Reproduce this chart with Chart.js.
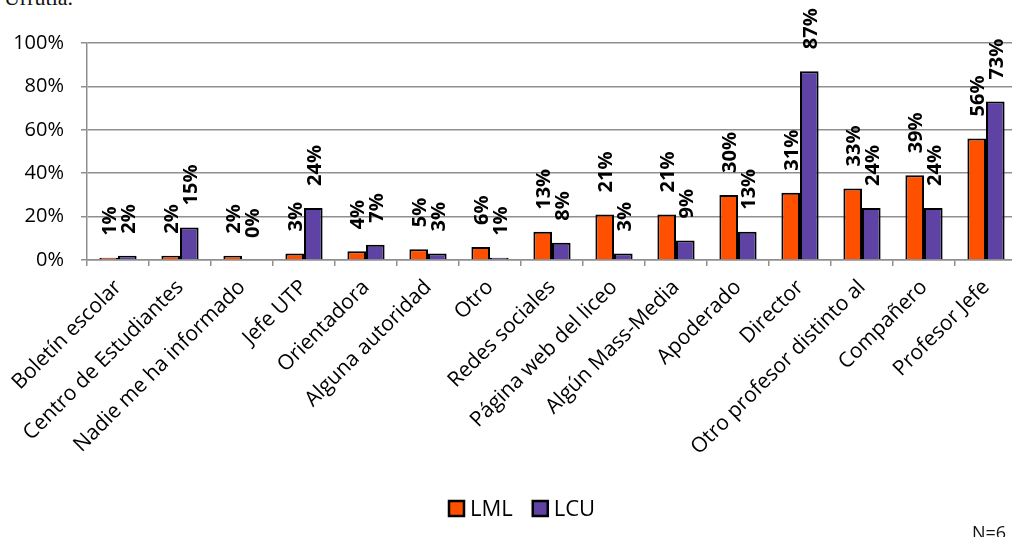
<!DOCTYPE html>
<html>
<head>
<meta charset="utf-8">
<script src="https://cdn.jsdelivr.net/npm/chart.js@4.4.1/dist/chart.umd.min.js"></script>
<style>
  html, body { margin: 0; padding: 0; background: #fff; }
  #wrap { position: relative; width: 1012px; height: 537px; overflow: hidden; }
  #c { position: absolute; left: 0; top: 0; }
  .note { position: absolute; color: #111; white-space: nowrap; }
</style>
</head>
<body>
<div id="wrap">
  <div class="note" style="left:4px; top:-15px; font-family:'Liberation Serif'; font-size:22px;">Urrutia.</div>
  <canvas id="c" width="1030" height="537"></canvas>
  <div class="note" style="left:972px; top:520px; font-family:'Open Sans'; font-size:18px;">N=6</div>
</div>
<script>
const categories = [
  "Boletín escolar", "Centro de Estudiantes", "Nadie me ha informado", "Jefe UTP",
  "Orientadora", "Alguna autoridad", "Otro", "Redes sociales", "Página web del liceo",
  "Algún Mass-Media", "Apoderado", "Director", "Otro profesor distinto al",
  "Compañero", "Profesor Jefe"
];
const seriesNames = ["LML", "LCU"];
const lmlValues = [1, 2, 2, 3, 4, 5, 6, 13, 21, 21, 30, 31, 33, 39, 56];
const lcuValues = [2, 15, 0, 24, 7, 3, 1, 8, 3, 9, 13, 87, 24, 24, 73];
const yTicks = [0, 20, 40, 60, 80, 100];

const FONT = "'Open Sans', 'Lato', sans-serif";
const GRID = '#8f8f8f';
const TEXT = '#000';

const valueLabels = {
  id: 'valueLabels',
  afterDatasetsDraw(chart) {
    const ctx = chart.ctx;
    ctx.save();
    ctx.fillStyle = TEXT;
    ctx.font = "bold 20px " + FONT;
    ctx.textAlign = 'left';
    ctx.textBaseline = 'middle';
    chart.data.datasets.forEach((ds, di) => {
      const meta = chart.getDatasetMeta(di);
      meta.data.forEach((el, i) => {
        const v = ds.data[i];
        ctx.save();
        ctx.translate(el.x + 2, el.y - 22);
        ctx.rotate(-Math.PI / 2);
        ctx.fillText(v + '%', 0, 0);
        ctx.restore();
      });
    });
    ctx.restore();
  }
};

const customLegend = {
  id: 'customLegend',
  afterDraw(chart) {
    const ctx = chart.ctx;
    ctx.save();
    ctx.font = "22px " + FONT;
    ctx.textBaseline = 'middle';
    ctx.textAlign = 'left';
    let x = 449;
    const cy = 509;
    chart.data.datasets.forEach((ds) => {
      ctx.fillStyle = ds.backgroundColor;
      ctx.fillRect(x, cy - 8, 15, 15);
      ctx.lineWidth = 2.5;
      ctx.strokeStyle = '#000';
      ctx.strokeRect(x, cy - 8, 15, 15);
      ctx.fillStyle = TEXT;
      ctx.fillText(ds.label, x + 21, cy + 1);
      x += 21 + ctx.measureText(ds.label).width + 20;
    });
    ctx.restore();
  }
};

new Chart(document.getElementById('c'), {
  type: 'bar',
  data: {
    labels: categories,
    datasets: [
      { label: seriesNames[0], data: lmlValues, backgroundColor: '#FF5000', borderColor: '#000', borderWidth: 2 },
      { label: seriesNames[1], data: lcuValues, backgroundColor: '#5E43A5', borderColor: '#000', borderWidth: 2 }
    ]
  },
  options: {
    responsive: false,
    animation: false,
    devicePixelRatio: 1,
    layout: { padding: { left: 9, right: 13, top: 43, bottom: 50 } },
    datasets: { bar: { categoryPercentage: 0.6, barPercentage: 1.0 } },
    scales: {
      x: {
        grid: { display: true, drawOnChartArea: false, drawTicks: true, tickLength: 6, color: GRID, lineWidth: 1.5, offset: true },
        border: { display: true, color: GRID, width: 1.5 },
        ticks: { minRotation: 45, maxRotation: 45, autoSkip: false, color: TEXT, font: { family: FONT, size: 21 }, padding: 9 },
        afterFit(scale) { scale.height = 227; }
      },
      y: {
        min: 0, max: 100,
        afterBuildTicks(scale) { scale.ticks = yTicks.map(v => ({ value: v })); },
        grid: { color: GRID, lineWidth: 1.5, tickLength: 6, drawTicks: true },
        border: { display: true, color: GRID, width: 1.5 },
        ticks: { color: TEXT, font: { family: FONT, size: 20 }, padding: 17, callback: v => v + '%' },
        afterFit(scale) { scale.width = 78; }
      }
    },
    plugins: {
      legend: { display: false },
      tooltip: { enabled: false }
    }
  },
  plugins: [valueLabels, customLegend]
});
</script>
</body>
</html>
